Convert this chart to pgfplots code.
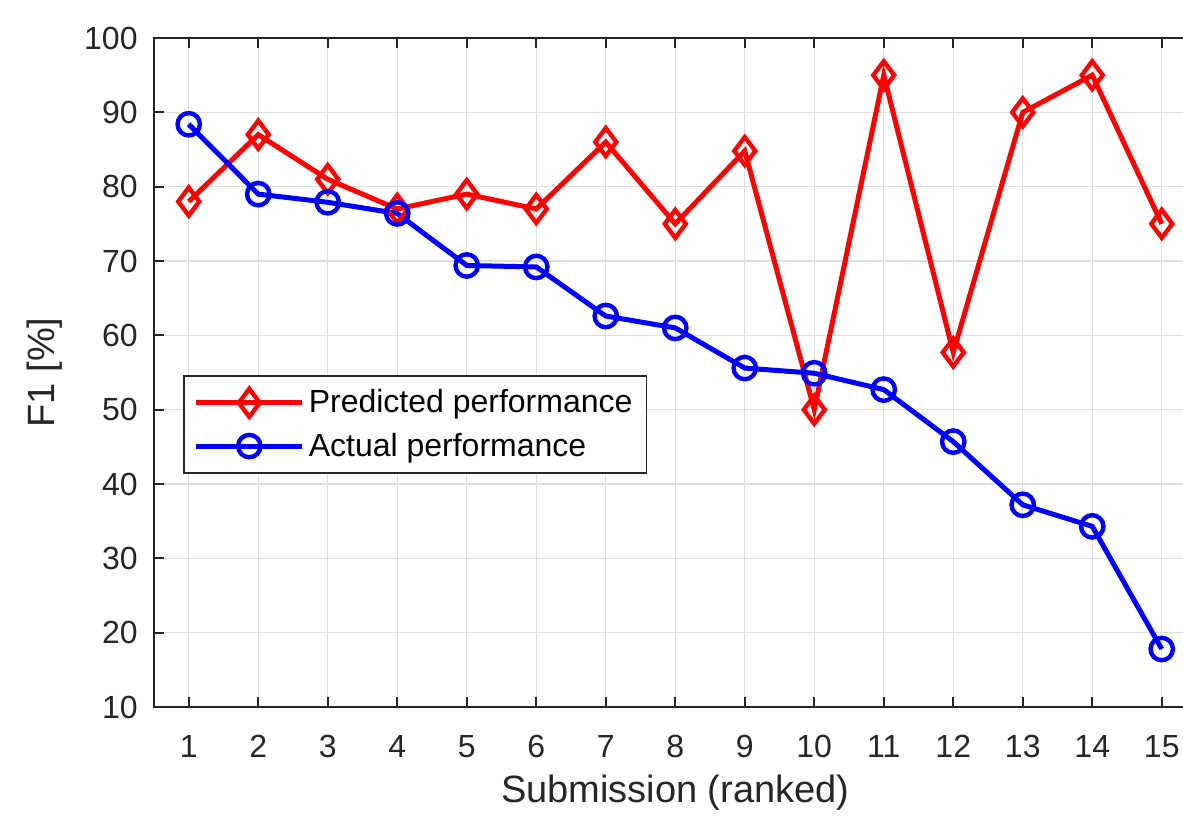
\documentclass[border=0pt]{standalone}
\usepackage{fontspec}
\setmainfont{Liberation Sans}
\usepackage{pgfplots}
\pgfplotsset{compat=1.18}
\definecolor{axgray}{HTML}{262626}
\definecolor{gridgray}{HTML}{DFDFDF}
\begin{document}
\begin{tikzpicture}
\begin{axis}[
  scale only axis,
  width=521.25pt, height=334.5pt,
  xmin=0.5, xmax=15.5, ymin=10, ymax=100,
  xtick={1,...,15}, ytick={10,20,...,100},
  grid=major,
  major grid style={draw=gridgray, line width=0.7pt},
  axis line style={draw=axgray, line width=1pt},
  tick style={draw=axgray, line width=1pt},
  major tick length=5pt,
  tick align=inside,
  /pgf/number format/assume math mode=true,
  ticklabel style={font=\fontsize{16}{19}\selectfont, text=axgray},
  xticklabel style={anchor=base, inner sep=0pt, yshift=-25pt},
  yticklabel style={anchor=east, inner sep=0pt, xshift=-8pt},
  xlabel={Submission (ranked)},
  ylabel={F1 [\%]},
  label style={font=\fontsize{19}{22}\selectfont, text=axgray},
  xlabel style={at={(axis description cs:0.5,0)}, anchor=base, yshift=-47.5pt},
  ylabel style={at={(axis description cs:-0.1046,0.5)}, anchor=center},
  legend style={at={(axis description cs:0.0278,0.4963)}, anchor=north west,
    draw=axgray, line width=0.8pt, fill=white,
    font=\fontsize{16}{19}\selectfont, text=black,
    inner xsep=5pt, inner ysep=5pt, row sep=4.5pt,
    cells={anchor=west}},
  legend image code/.code={%
    \draw[mark repeat=2, mark phase=2] plot coordinates {(0pt,0pt) (26.5pt,0pt) (53pt,0pt)};},
]
\addplot[red, line width=2.5pt, mark=diamond, mark size=7pt,
  mark options={line width=2.2pt, solid, fill=none}] coordinates {
(1,78.0) (2,87.0) (3,81.0) (4,77.0) (5,79.0) (6,77.0) (7,86.0) (8,75.0)
(9,84.8) (10,50.0) (11,95.0) (12,57.7) (13,90.0) (14,95.0) (15,75.0)};
\addlegendentry{Predicted performance}
\addplot[blue, line width=2.5pt, mark=o, mark size=5.6pt,
  mark options={line width=2.2pt, solid}] coordinates {
(1,88.4) (2,79.0) (3,77.9) (4,76.4) (5,69.4) (6,69.2) (7,62.6) (8,61.0)
(9,55.6) (10,54.9) (11,52.7) (12,45.7) (13,37.2) (14,34.3) (15,17.8)};
\addlegendentry{Actual performance}
\end{axis}
\pgfresetboundingbox
\useasboundingbox (-77pt,-54pt) rectangle (514.5pt,353.5pt);
\end{tikzpicture}
\end{document}
